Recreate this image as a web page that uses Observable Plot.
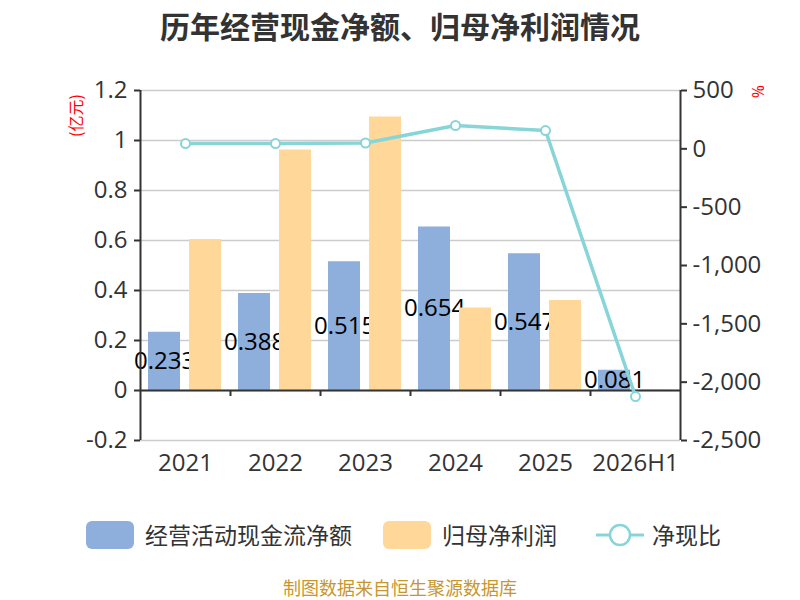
<!DOCTYPE html>
<html>
<head>
<meta charset="utf-8">
<script src="https://cdn.jsdelivr.net/npm/d3@7"></script>
<script src="https://cdn.jsdelivr.net/npm/@observablehq/plot@0.6"></script>
<style>
  body { margin:0; background:#fff; font-family:"Open Sans","Noto Sans CJK SC",sans-serif; }
  #wrap { position:relative; width:800px; height:600px; overflow:hidden; }
  #chart { position:absolute; left:0; top:0; }
  .title { position:absolute; left:0; top:3px; width:800px; text-align:center; font-family:"Noto Sans CJK SC",sans-serif; font-weight:bold; font-size:30px; color:#333; }
  .sw { position:absolute; width:48px; height:28px; border-radius:6px; }
  .lt { position:absolute; top:516px; font-family:"Noto Sans CJK SC",sans-serif; font-size:23px; color:#333; line-height:36px; white-space:nowrap; }
  .foot { position:absolute; left:0; top:576px; width:800px; text-align:center; font-family:"Noto Sans CJK SC",sans-serif; font-size:18px; line-height:22px; color:#c8962e; }
</style>
</head>
<body>
<div id="wrap">
  <div id="chart"></div>
  <div class="title">历年经营现金净额、归母净利润情况</div>
  <div id="legend"></div>
  <div class="foot">制图数据来自恒生聚源数据库</div>
</div>
<script>
const categories = ["2021", "2022", "2023", "2024", "2025", "2026H1"];
const cashFlow = [0.233, 0.388, 0.515, 0.654, 0.547, 0.081];
const netProfit = [0.604, 0.962, 1.094, 0.330, 0.360, 0.003];
const ratio = [45, 45, 50, 200, 157, -2123];
const leftTicks = [-0.2, 0, 0.2, 0.4, 0.6, 0.8, 1.0, 1.2];
const rightTicks = [500, 0, -500, -1000, -1500, -2000, -2500];
const seriesNames = ["经营活动现金流净额", "归母净利润", "净现比"];
const colors = ["#8eaedb", "#ffd899", "#88d5d9"];

const W = 800, H = 600, ML = 140, MR = 120, MT = 90, MB = 160;
const half = (W - ML - MR) / categories.length / 2;

const data = categories.map((c, i) => ({cat: c, cash: cashFlow[i], profit: netProfit[i], ratio: ratio[i]}));
const toLeft = d3.scaleLinear().domain([-2500, 500]).range([-0.2, 1.2]);
const fmtR = v => { v = Math.round(v); return (v < 0 ? "-" : "") + d3.format(",")(Math.abs(v)); };

const chart = Plot.plot({
  width: W, height: H,
  marginLeft: ML, marginRight: MR, marginTop: MT, marginBottom: MB,
  style: {fontFamily: "'Open Sans','Noto Sans CJK SC',sans-serif", color: "#333", background: "transparent"},
  x: {type: "band", domain: categories, padding: 0, axis: null, label: null},
  y: {domain: [-0.2, 1.2], axis: null, label: null},
  marks: [
    Plot.gridY(leftTicks, {stroke: "#cccccc", strokeOpacity: 1, strokeWidth: 1.5}),
    Plot.barY(data, {x: "cat", y: "cash", fill: colors[0], insetLeft: 8, insetRight: 50}),
    Plot.text(data, {x: "cat", y: d => d.cash / 2, text: d => String(d.cash), dx: -21, fontSize: 24, fill: "#000"}),
    Plot.barY(data, {x: "cat", y: "profit", fill: colors[1], insetLeft: 49, insetRight: 9}),
    Plot.ruleY([0], {stroke: "#333", strokeWidth: 2}),
    Plot.ruleX(categories.slice(1), {x: d => d, dx: -half, y1: 0, y2: -0.024, stroke: "#333", strokeWidth: 2}),
    Plot.ruleX([categories[0]], {x: d => d, dx: -half, y1: -0.2, y2: 1.2, stroke: "#333", strokeWidth: 2}),
    Plot.ruleX([categories[categories.length - 1]], {x: d => d, dx: half, y1: -0.2, y2: 1.2, stroke: "#333", strokeWidth: 2}),
    Plot.axisY(leftTicks, {anchor: "left", label: null, tickSize: 6, tickPadding: 7, fontSize: 24, stroke: "#333", strokeWidth: 2, tickFormat: d => String(+d.toFixed(1)), fill: "#333"}),
    Plot.axisY(rightTicks.map(toLeft), {anchor: "right", label: null, tickSize: 6, tickPadding: 6, fontSize: 24, stroke: "#333", strokeWidth: 2, tickFormat: d => fmtR(toLeft.invert(d)), fill: "#333"}),
    Plot.axisX({anchor: "bottom", label: null, tickSize: 0, tickPadding: 13, fontSize: 24, fill: "#333"}),
    Plot.line(data, {x: "cat", y: d => toLeft(d.ratio), stroke: colors[2], strokeWidth: 3.5}),
    Plot.dot(data, {x: "cat", y: d => toLeft(d.ratio), r: 4.5, fill: "white", stroke: colors[2], strokeWidth: 2}),
    Plot.text(["(亿元)"], {frameAnchor: "top-left", textAnchor: "middle", lineAnchor: "middle", dx: -64, dy: 25, rotate: -90, fill: "red", fontSize: 16, fontFamily: "'Noto Sans CJK SC',sans-serif"}),
    Plot.text(["%"], {frameAnchor: "top-right", textAnchor: "middle", lineAnchor: "middle", dx: 77, dy: 1, rotate: 90, fill: "red", fontSize: 16})
  ]
});
document.getElementById("chart").appendChild(chart);

const leg = document.getElementById("legend");
const items = [
  {x: 86, tx: 145, type: "bar", c: colors[0], t: seriesNames[0]},
  {x: 383, tx: 442, type: "bar", c: colors[1], t: seriesNames[1]},
  {x: 596, tx: 652, type: "line", c: colors[2], t: seriesNames[2]}
];
items.forEach(it => {
  if (it.type === "bar") {
    const s = document.createElement("div");
    s.className = "sw"; s.style.left = it.x + "px"; s.style.top = "521px"; s.style.background = it.c;
    leg.appendChild(s);
  } else {
    const ns = "http://www.w3.org/2000/svg";
    const svg = document.createElementNS(ns, "svg");
    svg.setAttribute("width", 48); svg.setAttribute("height", 28);
    svg.style.position = "absolute"; svg.style.left = it.x + "px"; svg.style.top = "521px";
    const l = document.createElementNS(ns, "line");
    l.setAttribute("x1", 0); l.setAttribute("x2", 48); l.setAttribute("y1", 14); l.setAttribute("y2", 14);
    l.setAttribute("stroke", it.c); l.setAttribute("stroke-width", 3);
    svg.appendChild(l);
    const c = document.createElementNS(ns, "circle");
    c.setAttribute("cx", 24); c.setAttribute("cy", 14); c.setAttribute("r", 10);
    c.setAttribute("fill", "white"); c.setAttribute("stroke", it.c); c.setAttribute("stroke-width", 2.5);
    svg.appendChild(c);
    leg.appendChild(svg);
  }
  const t = document.createElement("div");
  t.className = "lt"; t.style.left = it.tx + "px"; t.textContent = it.t;
  leg.appendChild(t);
});
</script>
</body>
</html>
